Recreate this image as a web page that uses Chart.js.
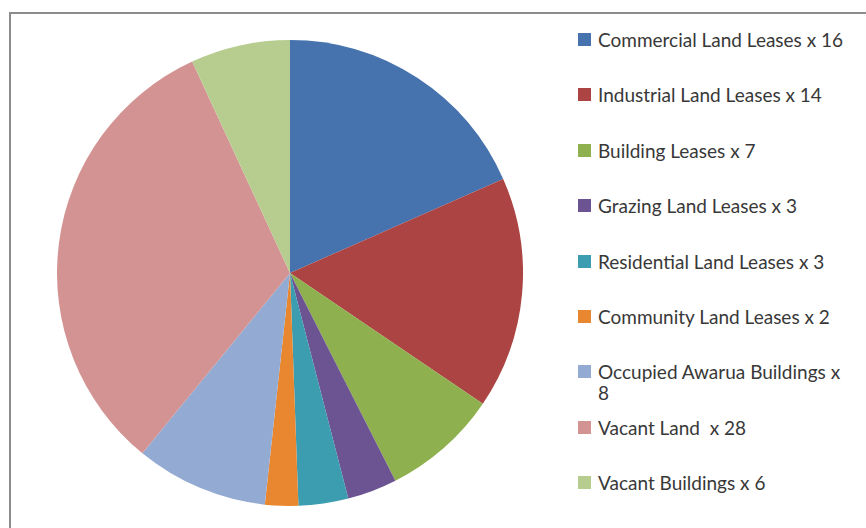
<!DOCTYPE html>
<html>
<head>
<meta charset="utf-8">
<script src="https://cdn.jsdelivr.net/npm/chart.js@4.4.0/dist/chart.umd.min.js"></script>
<style>
  html, body { margin: 0; padding: 0; background: #fff; }
  body { width: 866px; height: 528px; position: relative; overflow: hidden; }
  #frame {
    position: absolute; left: 9px; top: 12px; width: 900px; height: 600px;
    border-left: 2px solid #8c8c8c; border-top: 2px solid #8c8c8c;
  }
  #pieBox { position: absolute; left: 57px; top: 40px; width: 466px; height: 466px; }
  #legend { position: absolute; left: 0; top: 0; }
  .item {
    position: absolute; left: 578px; width: 280px;
    font-family: Lato, "Open Sans", sans-serif; font-size: 19px; line-height: 21px;
    color: #383838;
  }
  .swatch {
    position: absolute; left: 0; top: 4px; width: 13px; height: 13px;
  }
  .txt { display: block; margin-left: 20px; width: 252px; white-space: pre-wrap; }
</style>
</head>
<body>
<div id="frame"></div>
<div id="pieBox"><canvas id="pieChart" width="466" height="466"></canvas></div>
<div id="legend"></div>
<script>
// categories and counts
const categories = [
    'Commercial Land Leases x 16',
    'Industrial Land Leases x 14',
    'Building Leases x 7',
    'Grazing Land Leases x 3',
    'Residential Land Leases x 3',
    'Community Land Leases x 2',
    'Occupied Awarua Buildings x 8',
    'Vacant Land  x 28',
    'Vacant Buildings x 6'
];
const counts = [16, 14, 7, 3, 3, 2, 8, 28, 6];
const sliceColors = [
    '#4672ad', '#ab4442', '#8fb04e', '#6c5391', '#3c9db1',
    '#e8872f', '#93aad3', '#d49393', '#b7cd90'
];

function renderLegend() {
    const box = document.getElementById('legend');
    categories.forEach((label, i) => {
        const item = document.createElement('div');
        item.className = 'item';
        item.style.top = (40 + i * 55.4 - 11) + 'px';
        const sw = document.createElement('span');
        sw.className = 'swatch';
        sw.style.background = sliceColors[i];
        const t = document.createElement('span');
        t.className = 'txt';
        t.textContent = label;
        item.appendChild(sw);
        item.appendChild(t);
        box.appendChild(item);
    });
}

function renderPie() {
    const ctx = document.getElementById('pieChart').getContext('2d');
    new Chart(ctx, {
        type: 'pie',
        data: {
            labels: categories,
            datasets: [{
                data: counts,
                backgroundColor: sliceColors,
                borderWidth: 0
            }]
        },
        options: {
            responsive: false,
            animation: false,
            layout: { padding: 0 },
            plugins: {
                legend: { display: false },
                tooltip: { enabled: false }
            }
        }
    });
}

renderLegend();
renderPie();
</script>
</body>
</html>
